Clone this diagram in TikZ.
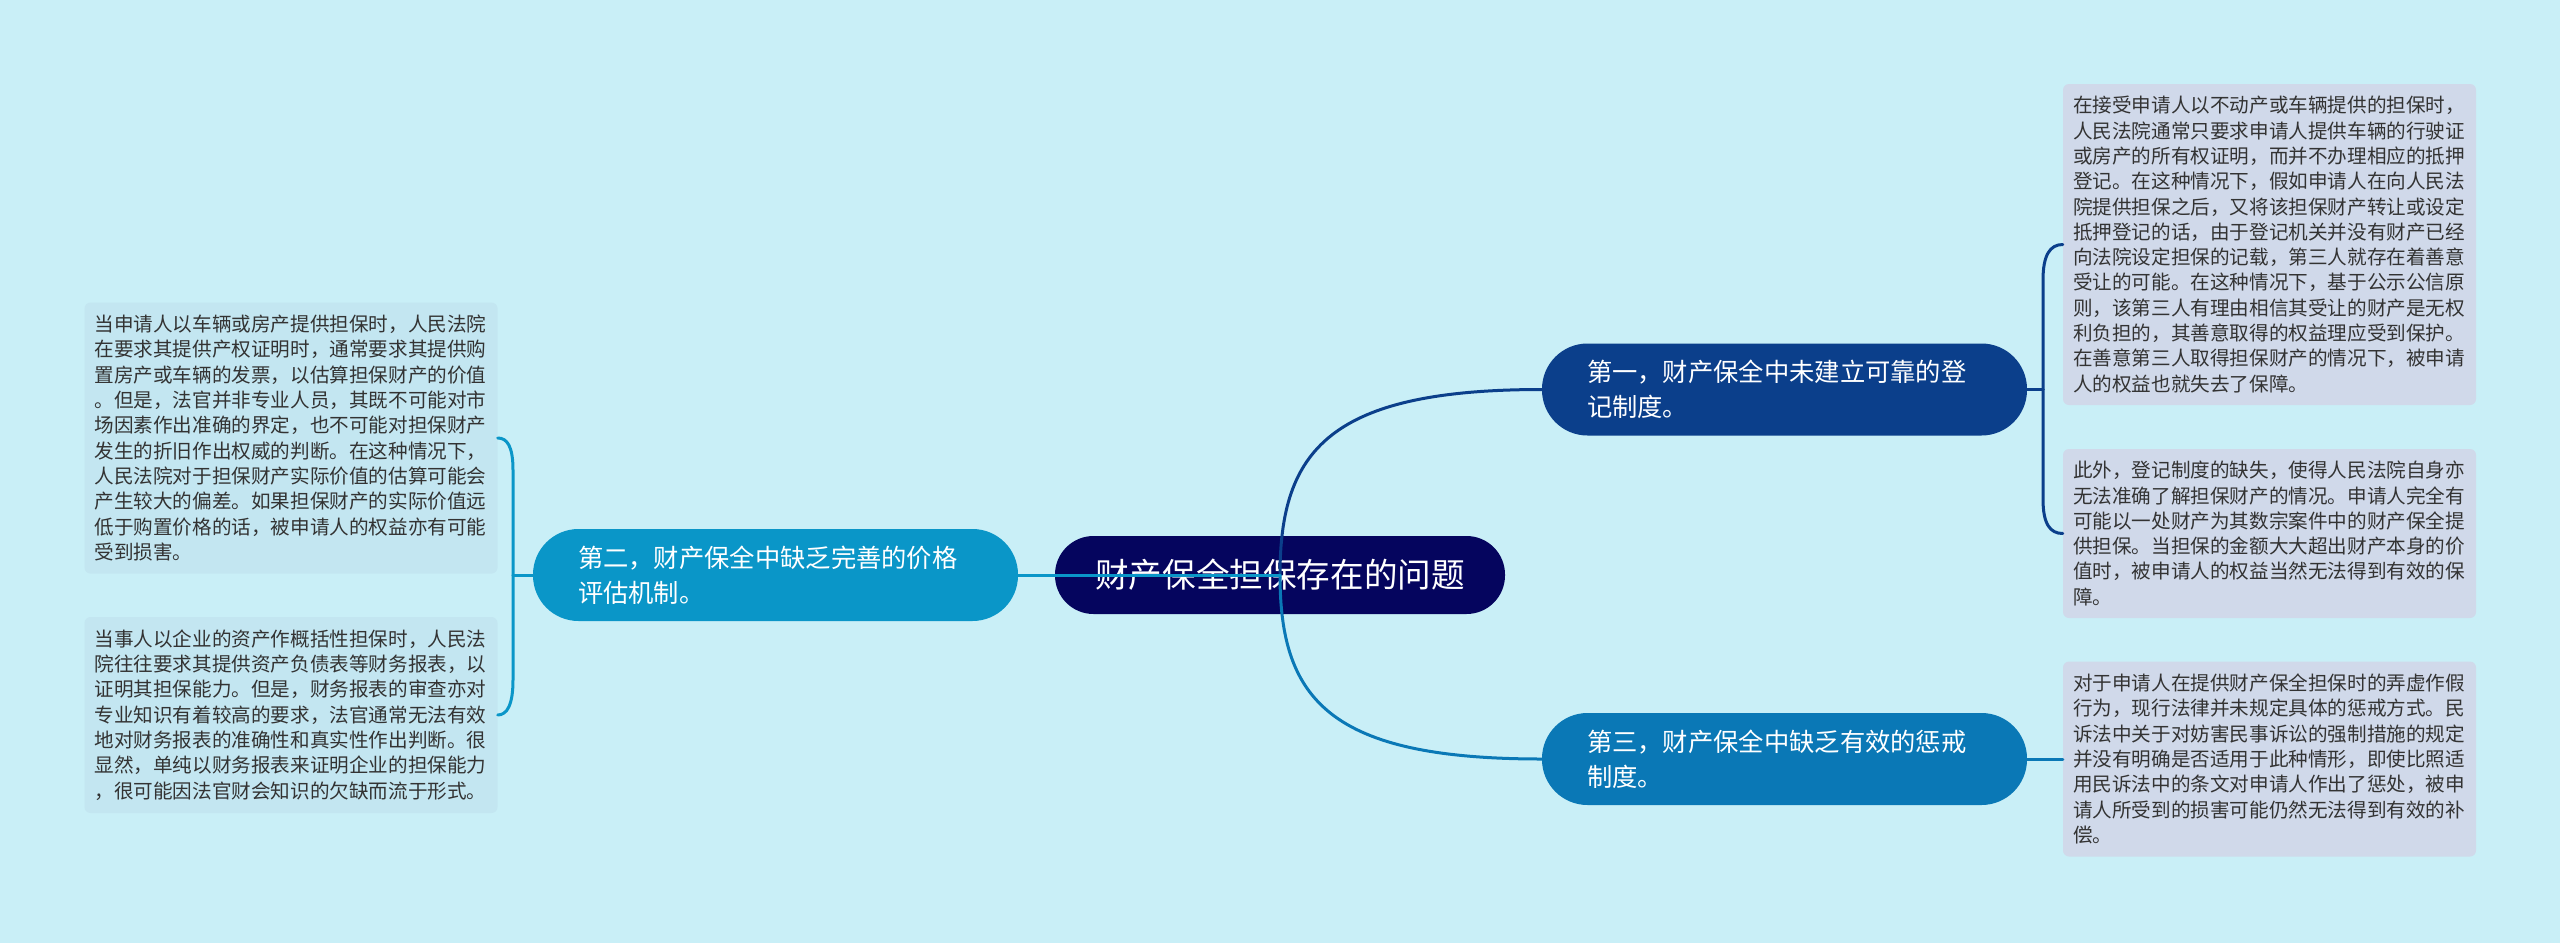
\documentclass[tikz,border=0pt]{standalone}
\usepackage{fontspec}
\newfontfamily\cjk{Noto Sans CJK SC}
\definecolor{bgc}{HTML}{C9EFF7}
\definecolor{ctrc}{HTML}{05055E}
\definecolor{cone}{HTML}{0B3F8B}
\definecolor{ctwo}{HTML}{0A96C8}
\definecolor{cthree}{HTML}{0A78B6}
\definecolor{leafR}{HTML}{D0D9EA}
\definecolor{leafL}{HTML}{C3E6F1}
\definecolor{txt}{HTML}{333333}
\begin{document}
\begin{tikzpicture}[x=1pt,y=-1pt,
  pill/.style={rectangle, inner sep=0pt, text=white, align=left,
    font=\cjk\fontsize{25.3}{35}\selectfont, text width=395pt,
    minimum width=485pt, minimum height=92pt, rounded corners=45.5pt},
  leaf/.style={rectangle, rounded corners=6pt, inner sep=0pt, text=txt, align=left,
    font=\cjk\fontsize{19.6}{25.3}\selectfont, text width=393pt, minimum width=413pt},
  conn/.style={line width=3pt, line cap=round}]
\useasboundingbox (0,0) rectangle (2560,943);
\fill[bgc] (0,0) rectangle (2560,943);

% central topic
\node[fill=ctrc, inner sep=0pt, minimum width=450pt, minimum height=78pt,
  rounded corners=38.5pt, text=white, font=\cjk\fontsize{33.6}{40}\selectfont]
  (ctr) at (1280,575) {财产保全担保存在的问题};

% main branches
\node[pill, fill=cone] (n1) at (1784.5,389.5) {第一，财产保全中未建立可靠的登\\记制度。};
\node[pill, fill=ctwo] (n2) at (775.5,575) {第二，财产保全中缺乏完善的价格\\评估机制。};
\node[pill, fill=cthree] (n3) at (1784.5,759) {第三，财产保全中缺乏有效的惩戒\\制度。};

% right leaves
\node[leaf, fill=leafR, minimum height=321pt] (r1) at (2269.5,244.5) {在接受申请人以不动产或车辆提供的担保时，\\人民法院通常只要求申请人提供车辆的行驶证\\或房产的所有权证明，而并不办理相应的抵押\\登记。在这种情况下，假如申请人在向人民法\\院提供担保之后，又将该担保财产转让或设定\\抵押登记的话，由于登记机关并没有财产已经\\向法院设定担保的记载，第三人就存在着善意\\受让的可能。在这种情况下，基于公示公信原\\则，该第三人有理由相信其受让的财产是无权\\利负担的，其善意取得的权益理应受到保护。\\在善意第三人取得担保财产的情况下，被申请\\人的权益也就失去了保障。};
\node[leaf, fill=leafR, minimum height=169pt] (r2) at (2269.5,533.5) {此外，登记制度的缺失，使得人民法院自身亦\\无法准确了解担保财产的情况。申请人完全有\\可能以一处财产为其数宗案件中的财产保全提\\供担保。当担保的金额大大超出财产本身的价\\值时，被申请人的权益当然无法得到有效的保\\障。};
\node[leaf, fill=leafR, minimum height=195pt] (r3) at (2269.5,759) {对于申请人在提供财产保全担保时的弄虚作假\\行为，现行法律并未规定具体的惩戒方式。民\\诉法中关于对妨害民事诉讼的强制措施的规定\\并没有明确是否适用于此种情形，即使比照适\\用民诉法中的条文对申请人作出了惩处，被申\\请人所受到的损害可能仍然无法得到有效的补\\偿。};

% left leaves
\node[leaf, fill=leafL, minimum height=271pt] (l1) at (291,438) {当申请人以车辆或房产提供担保时，人民法院\\在要求其提供产权证明时，通常要求其提供购\\置房产或车辆的发票，以估算担保财产的价值\\。但是，法官并非专业人员，其既不可能对市\\场因素作出准确的界定，也不可能对担保财产\\发生的折旧作出权威的判断。在这种情况下，\\人民法院对于担保财产实际价值的估算可能会\\产生较大的偏差。如果担保财产的实际价值远\\低于购置价格的话，被申请人的权益亦有可能\\受到损害。};
\node[leaf, fill=leafL, minimum height=196pt] (l2) at (291,715) {当事人以企业的资产作概括性担保时，人民法\\院往往要求其提供资产负债表等财务报表，以\\证明其担保能力。但是，财务报表的审查亦对\\专业知识有着较高的要求，法官通常无法有效\\地对财务报表的准确性和真实性作出判断。很\\显然，单纯以财务报表来证明企业的担保能力\\，很可能因法官财会知识的欠缺而流于形式。};

% junction points
\coordinate (jr) at (2043,389.5);
\coordinate (jl) at (513,575);

% connectors from centre
\draw[conn, cone] (ctr.center) .. controls +(0,-125) and +(-212,0) .. (n1.west);
\draw[conn, cthree] (ctr.center) .. controls +(0,125) and +(-212,0) .. (n3.west);
\draw[conn, ctwo] (ctr.center) -- (n2.east);

% right bracket
\draw[conn, cone] (n1.east) -- (jr);
\draw[conn, cone] (jr) -- (2043,280) .. controls (2043,255) and (2050,244.5) .. (r1.west);
\draw[conn, cone] (jr) -- (2043,499) .. controls (2043,524) and (2050,533.5) .. (r2.west);
\draw[conn, cthree] (n3.east) -- (r3.west);

% left bracket
\draw[conn, ctwo] (n2.west) -- (jl);
\draw[conn, ctwo] (jl) -- (513,470) .. controls (513,446) and (507,438) .. (l1.east);
\draw[conn, ctwo] (jl) -- (513,680) .. controls (513,705) and (507,715) .. (l2.east);
\end{tikzpicture}
\end{document}
